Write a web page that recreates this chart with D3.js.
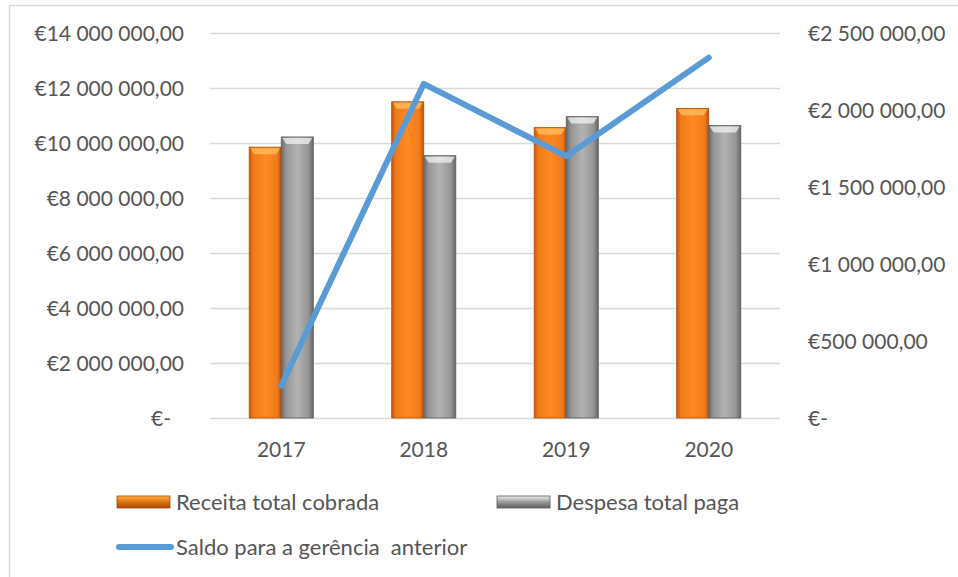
<!DOCTYPE html>
<html><head><meta charset="utf-8">
<script src="https://cdn.jsdelivr.net/npm/d3@7"></script>
<style>
html,body{margin:0;padding:0;background:#fff;}
svg{display:block;}
text{font-family:Lato,"Open Sans",sans-serif;fill:#555555;}
</style></head>
<body><svg id="c" width="958" height="577"></svg>
<script>
const years = ["2017","2018","2019","2020"];
const receita = [9850000, 11500000, 10560000, 11260000];
const despesa = [10220000, 9540000, 10960000, 10640000];
const saldo = [210000, 2170000, 1700000, 2340000];
const leftTicks = [0,2000000,4000000,6000000,8000000,10000000,12000000,14000000];
const rightTicks = [0,500000,1000000,1500000,2000000,2500000];
const seriesNames = ["Receita total cobrada","Despesa total paga","Saldo para a gerência  anterior"];

const svg = d3.select("#c");
const plotTop = 33, plotBottom = 418, plotLeft = 210, plotRight = 780;

// border
svg.append("path").attr("d","M9.5,577 V5.5 H958").attr("fill","none").attr("stroke","#d9d9d9").attr("stroke-width",1.5);

const yL = d3.scaleLinear().domain([0,14000000]).range([plotBottom,plotTop]);
const yR = d3.scaleLinear().domain([0,2500000]).range([plotBottom,plotTop]);
const x0 = d3.scaleBand().domain(years).range([plotLeft,plotRight]).paddingInner(0.55).paddingOuter(0.275);
const x1 = d3.scaleBand().domain(["r","d"]).range([0,x0.bandwidth()]);

const fmt = v => {
  if (v===0) return "€-";
  const s = d3.format(",.2f")(v).replace(/,/g," ").replace(/\.(\d\d)$/,",$1");
  return "€" + s;
};

// gradients
const defs = svg.append("defs");
function grad(id, stops){
  const g = defs.append("linearGradient").attr("id",id).attr("x1","0").attr("x2","1").attr("y1","0").attr("y2","0");
  stops.forEach(s=>g.append("stop").attr("offset",s[0]).attr("stop-color",s[1]));
}
grad("go",[[0,"#c2560c"],[0.12,"#f07a1a"],[0.5,"#ff8a22"],[0.88,"#f07a1a"],[1,"#b85008"]]);
grad("gg",[[0,"#6a6a6a"],[0.15,"#959595"],[0.5,"#b3b3b3"],[0.85,"#959595"],[1,"#666666"]]);
const lg = defs.append("linearGradient").attr("id","lo").attr("x1","0").attr("x2","0").attr("y1","0").attr("y2","1");
[[0,"#ffb347"],[0.5,"#e07010"],[1,"#a84a06"]].forEach(s=>lg.append("stop").attr("offset",s[0]).attr("stop-color",s[1]));
const lgg = defs.append("linearGradient").attr("id","lgr").attr("x1","0").attr("x2","0").attr("y1","0").attr("y2","1");
[[0,"#eeeeee"],[0.5,"#9a9a9a"],[1,"#5e5e5e"]].forEach(s=>lgg.append("stop").attr("offset",s[0]).attr("stop-color",s[1]));

// gridlines
svg.append("g").selectAll("line").data(leftTicks).join("line")
  .attr("x1",plotLeft).attr("x2",plotRight).attr("y1",d=>Math.round(yL(d))+0.5).attr("y2",d=>Math.round(yL(d))+0.5)
  .attr("stroke","#d9d9d9").attr("stroke-width",1.3);

// left axis labels
const aL = d3.axisLeft(yL).tickValues(leftTicks).tickFormat(fmt).tickSize(0).tickPadding(0);
const gL = svg.append("g").attr("transform","translate(184,0)").call(aL);
gL.select(".domain").remove();
gL.selectAll("text").style("font-size","21px").attr("fill","#555555").attr("dy","0.35em")
  .attr("dx",d=>d===0?-13:0);

// right axis labels
const aR = d3.axisRight(yR).tickValues(rightTicks).tickFormat(fmt).tickSize(0).tickPadding(0);
const gR = svg.append("g").attr("transform","translate(808,0)").call(aR);
gR.select(".domain").remove();
gR.selectAll("text").style("font-size","21px").attr("fill","#555555").attr("dy","0.35em");

// bars
const gB = svg.append("g");
years.forEach((yr,i)=>{
  const bx = x0(yr);
  [["r",receita[i],"url(#go)","#b0500a"],["d",despesa[i],"url(#gg)","#5e5e5e"]].forEach(([k,v,f,st])=>{
    const x = bx + x1(k), w = x1.bandwidth(), yv = yL(v);
    gB.append("rect").attr("x",x).attr("y",yv).attr("width",w).attr("height",plotBottom-yv)
      .attr("fill",f).attr("stroke",st).attr("stroke-width",0.8);
    gB.append("path").attr("d",`M${x+1},${yv+1} L${x+w-1},${yv+1} L${x+w-5},${yv+7} L${x+5},${yv+7} Z`)
      .attr("fill", k==="r" ? "#ffc060" : "#f2f2f2").attr("opacity",0.75);
  });
});

// x axis labels
const aX = d3.axisBottom(x0).tickSize(0).tickPadding(0);
const gX = svg.append("g").attr("transform","translate(0,450)").call(aX);
gX.select(".domain").remove();
gX.selectAll("text").style("font-size","21px").attr("fill","#555555").attr("dy","0.35em");

// line
const line = d3.line().x((d,i)=>x0(years[i])+x0.bandwidth()/2).y(d=>yR(d));
svg.append("path").datum(saldo).attr("d",line).attr("fill","none")
  .attr("stroke","#5b9bd5").attr("stroke-width",6).attr("stroke-linecap","round").attr("stroke-linejoin","round");

// legend
const lgd = svg.append("g");
lgd.append("rect").attr("x",117).attr("y",496).attr("width",53).attr("height",12).attr("fill","url(#lo)").attr("stroke","#a04806").attr("stroke-width",0.8);
lgd.append("text").attr("x",176).attr("y",502).attr("dy","0.35em").style("font-size","22px").text(seriesNames[0]);
lgd.append("rect").attr("x",497).attr("y",496).attr("width",53).attr("height",12).attr("fill","url(#lgr)").attr("stroke","#5a5a5a").attr("stroke-width",0.8);
lgd.append("text").attr("x",556).attr("y",502).attr("dy","0.35em").style("font-size","22px").text(seriesNames[1]);
lgd.append("line").attr("x1",119).attr("x2",171).attr("y1",547).attr("y2",547).attr("stroke","#5b9bd5").attr("stroke-width",6).attr("stroke-linecap","round");
lgd.append("text").attr("x",176).attr("y",547).attr("dy","0.35em").style("font-size","22px").style("white-space","pre").attr("xml:space","preserve").text(seriesNames[2]);
</script></body></html>
